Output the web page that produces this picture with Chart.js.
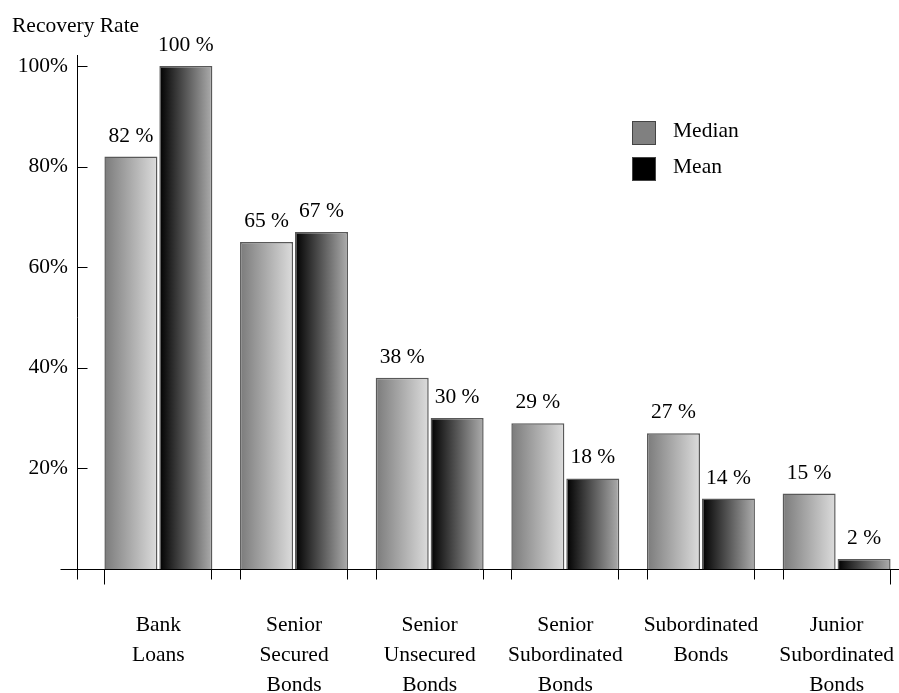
<!DOCTYPE html>
<html><head><meta charset="utf-8">
<script src="https://cdn.jsdelivr.net/npm/chart.js@4/dist/chart.umd.min.js"></script>
<style>html,body{margin:0;padding:0;background:#fff;overflow:hidden}#wrap{width:899px;height:693px;position:relative}</style>
</head><body><div id="wrap"><canvas id="c" width="899" height="693"></canvas></div>
<script>
const categories = [["Bank","Loans"],["Senior","Secured","Bonds"],["Senior","Unsecured","Bonds"],["Senior","Subordinated","Bonds"],["Subordinated","Bonds"],["Junior","Subordinated","Bonds"]];
const medianValues = [82, 65, 38, 29, 27, 15];
const meanValues = [100, 67, 30, 18, 14, 2];
const yTickValues = [20, 40, 60, 80, 100];
const seriesNames = ["Median", "Mean"];
const axisTitle = "Recovery Rate";

const FONT = '"Liberation Serif", "Times New Roman", serif';
const FS = 21.5;
const gradStops = [['#7b7b7b', '#dcdcdc'], ['#000000', '#adadad']];
const legendFill = ['#808080', '#000000'];

function line(ctx, x1, y1, x2, y2) { ctx.beginPath(); ctx.moveTo(x1, y1); ctx.lineTo(x2, y2); ctx.stroke(); }

const decor = {
  id: 'decor',
  beforeDatasetDraw(chart, args) {
    const ctx = chart.ctx;
    const stops = gradStops[args.index];
    args.meta.data.forEach(el => {
      const g = ctx.createLinearGradient(el.x - el.width / 2, 0, el.x + el.width / 2, 0);
      g.addColorStop(0, stops[0]); g.addColorStop(1, stops[1]);
      el.options.backgroundColor = g;
    });
  },
  afterDatasetsDraw(chart) {
    const { ctx, chartArea: a, scales: { x: xs, y: ys } } = chart;
    ctx.save();
    ctx.strokeStyle = '#000'; ctx.lineWidth = 1;
    const ax = Math.round(a.left) + 0.5;
    const ay = Math.round(ys.getPixelForValue(0)) + 0.5;
    line(ctx, ax, Math.round(ys.getPixelForValue(ys.max)) - 11, ax, ay + 10);
    line(ctx, ax - 17, ay, chart.width, ay);
    yTickValues.forEach(v => { const py = Math.round(ys.getPixelForValue(v)) + 0.5; line(ctx, ax, py, ax + 10, py); });
    const m0 = chart.getDatasetMeta(0), m1 = chart.getDatasetMeta(1);
    categories.forEach((c, i) => {
      const l = m0.data[i].x - m0.data[i].width / 2, r = m1.data[i].x + m1.data[i].width / 2;
      const lx = Math.round(l) + 0.5, rx = Math.round(r) - 0.5;
      line(ctx, lx, ay, lx, ay + (i === 0 ? 15 : 10));
      line(ctx, rx, ay, rx, ay + (i === categories.length - 1 ? 15 : 10));
    });
    ctx.font = FS + 'px ' + FONT; ctx.fillStyle = '#000';
    ctx.textAlign = 'center'; ctx.textBaseline = 'alphabetic';
    [m0, m1].forEach((m, d) => m.data.forEach((el, i) => {
      ctx.fillText(chart.data.datasets[d].data[i].y + ' %', el.x, el.y - 15);
    }));
    ctx.textAlign = 'left';
    seriesNames.forEach((n, i) => {
      const lx = 632, ly = 121 + i * 36;
      ctx.fillStyle = legendFill[i]; ctx.fillRect(lx, ly, 24, 24);
      ctx.strokeStyle = '#444'; ctx.strokeRect(lx + 0.5, ly + 0.5, 23, 23);
      ctx.fillStyle = '#000'; ctx.fillText(n, lx + 41, ly + 16);
    });
    ctx.fillText(axisTitle, 12, 32);
    ctx.restore();
  }
};

const xIdx = categories.map((_, i) => i);
new Chart(document.getElementById('c'), {
  type: 'bar',
  data: {
    datasets: [
      { label: seriesNames[0], data: medianValues.map((v, i) => ({ x: i, y: v })), backgroundColor: () => '#999', borderColor: '#595959', borderWidth: 1.5 },
      { label: seriesNames[1], data: meanValues.map((v, i) => ({ x: i, y: v })), backgroundColor: () => '#333', borderColor: '#595959', borderWidth: 1.5 }
    ]
  },
  options: {
    responsive: false, animation: false, devicePixelRatio: 1,
    categoryPercentage: 0.81, barPercentage: 0.965,
    layout: { padding: { top: 66, left: 0, right: 0, bottom: 0 } },
    plugins: { legend: { display: false }, tooltip: { enabled: false }, title: { display: false } },
    scales: {
      x: {
        type: 'linear', min: -0.6, max: 5.46, offset: false,
        afterBuildTicks: s => { s.ticks = xIdx.map(v => ({ value: v })); },
        afterFit: s => { s.height = 124; },
        ticks: { callback: v => categories[v], font: { family: FONT, size: FS, lineHeight: 30 / FS }, color: '#000', padding: 2, maxRotation: 0, autoSkip: false },
        grid: { display: false, drawTicks: true, tickLength: 39 },
        border: { display: false }
      },
      y: {
        min: 0, max: 100,
        afterBuildTicks: s => { s.ticks = yTickValues.map(v => ({ value: v })); },
        afterFit: s => { s.width = 77; },
        ticks: { callback: v => v + '%', font: { family: FONT, size: FS }, color: '#000', padding: 9 },
        grid: { display: false, drawTicks: false },
        border: { display: false }
      }
    }
  },
  plugins: [decor]
});
</script></body></html>
